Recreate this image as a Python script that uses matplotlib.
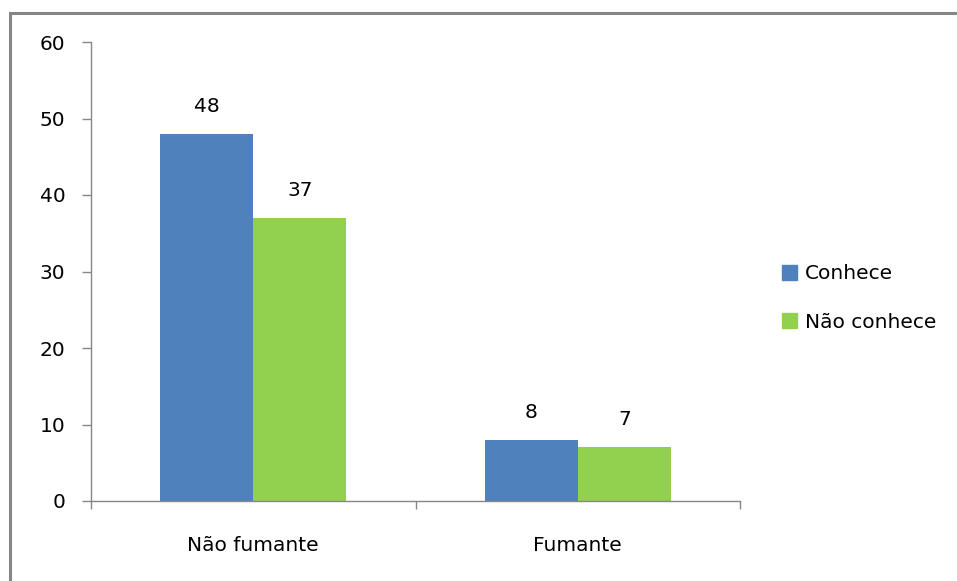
import matplotlib
matplotlib.use("Agg")
from matplotlib import pyplot as plt
from matplotlib.patches import Rectangle, Patch

categories = ['Não fumante', 'Fumante']
conhece = [48, 8]
nao_conhece = [37, 7]
series_names = ['Conhece', 'Não conhece']

blue = '#4F81BD'
green = '#92D050'
axis_gray = '#868686'

plt.rcParams['font.family'] = ['DejaVu Sans']
fs = 14.5

fig = plt.figure(figsize=(9.57, 5.81), dpi=100)
W, H = 957, 581
ax = fig.add_axes([91 / W, 1 - 501 / H, (740 - 91) / W, (501 - 42) / H])

# outer frame (only left/top visible, rest clipped off the image)
fig.patches.append(Rectangle((10 / W, -0.1), 1.2, 1 - 13 / H + 0.1,
                             transform=fig.transFigure, fill=False,
                             edgecolor=axis_gray, linewidth=2.2))

width = 0.287
x = list(range(len(categories)))
b1 = ax.bar([i - width / 2 for i in x], conhece, width, color=blue, label=series_names[0])
b2 = ax.bar([i + width / 2 for i in x], nao_conhece, width, color=green, label=series_names[1])

for bars, vals in ((b1, conhece), (b2, nao_conhece)):
    for bar, v in zip(bars, vals):
        ax.annotate(str(v), (bar.get_x() + bar.get_width() / 2, v),
                    xytext=(0, 13), textcoords='offset points',
                    ha='center', va='bottom', fontsize=fs)

ax.set_xlim(-0.5, 1.5)
ax.set_ylim(0, 60)
ax.set_yticks(range(0, 61, 10))
ax.set_xticks(x)
ax.set_xticklabels(categories)
ax.set_xticks([-0.5, 0.5, 1.5], minor=True)

for side in ('top', 'right'):
    ax.spines[side].set_visible(False)
for side in ('left', 'bottom'):
    ax.spines[side].set_color(axis_gray)
    ax.spines[side].set_linewidth(1.0)

ax.tick_params(axis='y', length=6.5, width=1, color=axis_gray, pad=12, labelsize=fs)
ax.tick_params(axis='x', which='major', length=0, pad=25, labelsize=fs)
ax.tick_params(axis='x', which='minor', length=6, width=1, color=axis_gray)

handles = [Patch(color=blue), Patch(color=green)]
fig.legend(handles, series_names, loc='center left',
           bbox_to_anchor=(764 / W, 1 - 298 / H), frameon=False,
           fontsize=fs, handlelength=0.75, handleheight=0.75,
           handletextpad=0.4, labelspacing=1.45)

fig.savefig('out.png', dpi=100)
